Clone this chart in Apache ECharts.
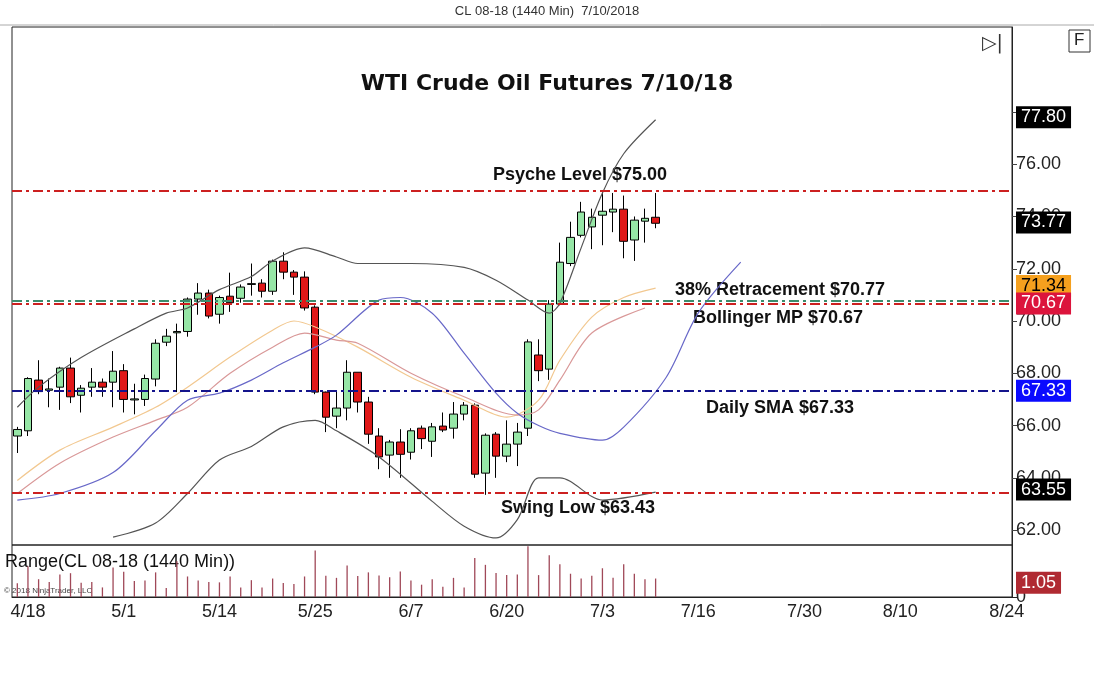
<!DOCTYPE html>
<html>
<head>
<meta charset="utf-8">
<script src="https://cdn.jsdelivr.net/npm/echarts@6/dist/echarts.min.js"></script>
<style>html,body{margin:0;padding:0;background:#fff}#main{width:1094px;height:682px}</style>
</head>
<body>
<div id="main"></div>
<script>
var chart = echarts.init(document.getElementById("main"));

// candles: [open, close, low, high], from 4/17 to 7/10
var candles = [
  [65.6,65.85,64.95,65.95],[65.8,67.8,65.6,67.85],[67.74,67.3,67.2,68.5],[67.35,67.4,66.7,67.8],
  [67.47,68.2,66.6,68.25],[68.2,67.1,66.86,68.6],[67.16,67.43,66.5,67.55],[67.47,67.66,67.1,68.2],
  [67.66,67.47,67.1,67.8],[67.66,68.08,66.7,68.85],[68.1,67.0,66.5,68.35],[66.98,67.02,66.43,67.6],
  [67.0,67.8,66.75,67.95],[67.78,69.15,67.5,69.3],[69.19,69.42,69.04,69.7],[69.55,69.6,67.28,69.9],
  [69.6,70.84,69.4,70.9],[70.84,71.07,70.24,71.45],[71.07,70.19,70.1,71.2],[70.26,70.9,69.9,70.97],
  [70.95,70.7,70.35,71.85],[70.87,71.3,70.7,71.4],[71.4,71.43,70.97,72.2],[71.45,71.14,70.9,71.6],
  [71.14,72.29,71.0,72.35],[72.29,71.87,71.6,72.63],[71.87,71.68,71.0,71.95],[71.68,70.5,70.4,71.9],
  [70.53,67.28,67.2,70.6],[67.28,66.32,65.75,67.3],[66.36,66.67,65.9,67.3],[66.67,68.04,66.2,68.5],
  [68.04,66.9,66.5,68.04],[66.9,65.67,65.3,67.1],[65.6,64.8,64.33,65.9],[64.87,65.37,64.0,65.45],
  [65.37,64.9,64.0,65.86],[64.98,65.8,64.7,65.9],[65.9,65.5,65.1,66.0],[65.4,65.95,64.8,66.1],
  [65.98,65.83,65.75,66.5],[65.9,66.44,65.5,66.9],[66.44,66.78,66.2,66.9],[66.78,64.14,64.0,66.85],
  [64.18,65.63,63.35,65.7],[65.67,64.83,64.0,65.75],[64.83,65.29,64.6,66.2],[65.29,65.75,64.45,66.1],
  [65.9,69.2,65.6,69.3],[68.7,68.1,67.7,69.3],[68.16,70.65,67.75,70.8],[70.65,72.25,70.6,73.0],
  [72.2,73.2,72.1,73.8],[73.28,74.17,73.2,74.56],[73.6,73.97,72.75,74.3],[74.05,74.2,72.9,75.0],
  [74.17,74.28,73.4,74.9],[74.28,73.05,72.4,74.8],[73.1,73.86,72.3,74.0],[73.82,73.93,73.0,74.3],
  [73.97,73.74,73.55,74.9]
];
var ranges = [1.0,2.25,1.3,1.1,1.65,1.74,1.05,1.1,0.7,2.15,1.85,1.17,1.2,1.8,0.66,2.62,1.5,1.21,1.1,1.07,
  1.5,0.7,1.23,0.7,1.35,1.03,0.95,1.5,3.4,1.55,1.4,2.3,1.54,1.8,1.57,1.45,1.86,1.2,0.9,1.3,
  0.75,1.4,0.7,2.85,2.35,1.75,1.6,1.65,3.7,1.6,3.05,2.4,1.7,1.36,1.55,2.1,1.4,2.4,1.7,1.3,1.35];

// indicator lines, read at some bars: [barIndex, value]
var upperBand = [[0,66.7],[2,67.47],[6,68.6],[11,69.7],[14,70.3],[16,70.5],[19,71.2],[22,71.7],[24,72.3],
  [27,72.8],[30,72.45],[32,72.2],[37,72.2],[42,72.05],[45,71.56],[48,70.8],[50,70.3],[51,70.68],
  [53,72.8],[55,74.9],[57,76.4],[60,77.7]];
var lowerBand = [[9,61.73],[13,62.27],[16,63.4],[19,64.68],[22,65.2],[25,65.95],[28,66.2],[30,65.8],
  [34,64.8],[39,63.1],[42,62.15],[45,61.7],[47,62.4],[49,64.0],[51,64.0],[55,63.15],[60,63.45]];
var midLine = [[0,63.15],[4,63.4],[9,64.2],[13,65.8],[16,66.97],[19,67.24],[22,67.74],[25,68.4],[28,69.0],
  [30,69.46],[34,70.8],[36,70.9],[39,70.3],[42,68.77],[45,67.24],[47,66.47],[49,66.0],[51,65.7],
  [55,65.44],[57,65.94],[61,67.85],[64,70.3],[68,72.25]];
var emaFast = [[0,63.9],[4,65.06],[9,65.94],[13,66.7],[16,67.47],[20,68.62],[24,69.65],[26,70.0],[28,69.77],
  [32,69.0],[37,67.85],[42,66.97],[46,66.32],[49,66.97],[51,68.5],[54,70.15],[57,70.9],[60,71.26]];
var emaSlow = [[0,63.4],[4,64.56],[9,65.56],[13,66.2],[16,66.7],[20,68.0],[24,69.0],[27,69.54],[30,69.27],
  [32,69.15],[37,68.0],[42,67.1],[47,66.4],[49,66.6],[51,67.74],[54,69.54],[59,70.5]];

var levels = [
  {v:75.00, c:'#cc2020'}, {v:70.77, c:'#3c8c6c'}, {v:70.67, c:'#cc2020'},
  {v:67.33, c:'#14148c'}, {v:63.43, c:'#cc2020'}
];
var tags = [
  {v:77.80, bg:'#000', fg:'#fff'}, {v:73.77, bg:'#000', fg:'#fff'}, {v:71.34, bg:'#f5a01e', fg:'#000'},
  {v:70.67, bg:'#dc143c', fg:'#fff'}, {v:67.33, bg:'#0a0aff', fg:'#fff'}, {v:63.55, bg:'#000', fg:'#fff'}
];
var shownDates = ['4/18','5/1','5/14','5/25','6/7','6/20','7/3','7/16','7/30','8/10','8/24'];
var priceTicks = [62,64,66,68,70,72,74,76,78];

// weekday categories 4/17/2018 .. 8/24/2018
var dates = [];
var d = new Date(2018, 3, 17);
while (d <= new Date(2018, 7, 24)) {
  if (d.getDay() !== 0 && d.getDay() !== 6) dates.push((d.getMonth() + 1) + '/' + d.getDate());
  d.setDate(d.getDate() + 1);
}

function fill(pts) {
  var arr = dates.map(function () { return null; });
  pts.forEach(function (p) { arr[p[0]] = p[1]; });
  return arr;
}
function line(pts, color) {
  return {type: 'line', data: fill(pts), connectNulls: true, smooth: 0.3, symbol: 'none',
    lineStyle: {color: color, width: 1.2}, xAxisIndex: 0, yAxisIndex: 0, silent: true};
}
function tagLabel(text, bg, fg) {
  return {show: true, position: 'end', distance: 4, formatter: text, color: fg,
    backgroundColor: bg, padding: [3, 5, 1, 5], fontSize: 18, fontFamily: 'Liberation Sans'};
}

var dash = [10, 4, 3, 4];
var series = [
  line(emaFast, '#f2c890'), line(emaSlow, '#d99898'), line(midLine, '#6868c8'),
  line(upperBand, '#555'), line(lowerBand, '#555'),
  {
    type: 'candlestick', data: candles, barWidth: 8,
    itemStyle: {color: '#96e6a6', color0: '#e01818', borderColor: '#000', borderColor0: '#000', borderWidth: 1},
    markLine: {
      symbol: 'none', silent: true, label: {show: false},
      data: levels.map(function (l) { return {yAxis: l.v, lineStyle: {color: l.c, type: dash, width: 2}}; })
    }
  },
  {
    type: 'line', data: fill([[0, 70]]), symbol: 'none', lineStyle: {width: 0}, z: 10,
    markLine: {
      symbol: 'none', silent: true, animation: false,
      lineStyle: {color: 'rgba(0,0,0,0)', width: 1, type: 'solid'},
      data: tags.map(function (t) {
        return {yAxis: t.v, label: tagLabel(t.v.toFixed(2), t.bg, t.fg)};
      })
    }
  },
  {
    type: 'bar', data: ranges, xAxisIndex: 1, yAxisIndex: 1, barWidth: 1.3,
    itemStyle: {color: '#a04858'},
    markLine: {
      symbol: 'none', silent: true, animation: false,
      lineStyle: {color: 'rgba(0,0,0,0)', width: 1, type: 'solid'},
      data: [{yAxis: 1.05, label: tagLabel('1.05', '#b02a32', '#fff')}]
    }
  }
];

var labelFont = {fontFamily: 'Liberation Sans', fontSize: 18, color: '#222'};
chart.setOption({
  animation: false,
  backgroundColor: '#fff',
  title: {
    text: 'WTI Crude Oil Futures 7/10/18', left: 'center', top: 68,
    textStyle: {fontFamily: 'DejaVu Sans', fontWeight: 'bold', fontSize: 22, color: '#111'}
  },
  grid: [
    {left: 12, right: 82, top: 27, height: 518, show: true, borderColor: '#222', borderWidth: 1},
    {left: 12, right: 82, top: 545, height: 52, show: true, borderColor: '#222', borderWidth: 1}
  ],
  xAxis: [
    {type: 'category', data: dates, gridIndex: 0, axisLine: {show: false}, axisTick: {show: false},
      axisLabel: {show: false}, splitLine: {show: false}},
    {type: 'category', data: dates, gridIndex: 1, axisLine: {lineStyle: {color: '#222'}},
      axisTick: {interval: 0, length: 4, lineStyle: {color: '#444'}},
      axisLabel: Object.assign({margin: 6, interval: function (i, v) { return shownDates.indexOf(v) >= 0; }}, labelFont)}
  ],
  yAxis: [
    {type: 'value', gridIndex: 0, position: 'right', min: 61.43, max: 81.25, scale: true,
      axisLine: {show: true, lineStyle: {color: '#222'}},
      axisTick: {show: true, customValues: priceTicks, length: 5, lineStyle: {color: '#444'}},
      axisLabel: Object.assign({customValues: priceTicks.slice(0, 8), formatter: function (v) { return v.toFixed(2); }, margin: 4}, labelFont),
      splitLine: {show: false}},
    {type: 'value', gridIndex: 1, position: 'right', min: 0, max: 3.8,
      axisLine: {show: true, lineStyle: {color: '#222'}},
      axisTick: {show: true, customValues: [0], length: 5},
      axisLabel: Object.assign({customValues: [0], margin: 4}, labelFont), splitLine: {show: false}}
  ],
  graphic: [
    {type: 'text', left: 'center', top: 5, style: {text: 'CL 08-18 (1440 Min)  7/10/2018', font: '13px Liberation Sans', fill: '#333'}},
    {type: 'line', shape: {x1: 0, y1: 25, x2: 1094, y2: 25}, style: {stroke: '#aaa', lineWidth: 1}},
    {type: 'rect', shape: {x: 1069, y: 30, width: 21, height: 22}, style: {fill: '#fff', stroke: '#333', lineWidth: 1}},
    {type: 'text', x: 1074, y: 32, style: {text: 'F', font: '17px Liberation Sans', fill: '#222'}},
    {type: 'text', x: 982, y: 35, style: {text: '▷|', font: '19px DejaVu Sans', fill: '#333'}},
    {type: 'text', x: 580, y: 175, style: {text: 'Psyche Level $75.00', font: 'bold 18px Liberation Sans', fill: '#111', align: 'center', verticalAlign: 'middle'}},
    {type: 'text', x: 780, y: 290, style: {text: '38% Retracement $70.77', font: 'bold 18px Liberation Sans', fill: '#111', align: 'center', verticalAlign: 'middle'}},
    {type: 'text', x: 778, y: 318, style: {text: 'Bollinger MP $70.67', font: 'bold 18px Liberation Sans', fill: '#111', align: 'center', verticalAlign: 'middle'}},
    {type: 'text', x: 780, y: 408, style: {text: 'Daily SMA $67.33', font: 'bold 18px Liberation Sans', fill: '#111', align: 'center', verticalAlign: 'middle'}},
    {type: 'text', x: 578, y: 508, style: {text: 'Swing Low $63.43', font: 'bold 18px Liberation Sans', fill: '#111', align: 'center', verticalAlign: 'middle'}},
    {type: 'text', x: 5, y: 553, style: {text: 'Range(CL 08-18 (1440 Min))', font: '18px Liberation Sans', fill: '#111'}},
    {type: 'text', x: 4, y: 587, style: {text: '© 2018 NinjaTrader, LLC', font: '8px Liberation Sans', fill: '#444'}}
  ],
  series: series
});
</script>
</body>
</html>
